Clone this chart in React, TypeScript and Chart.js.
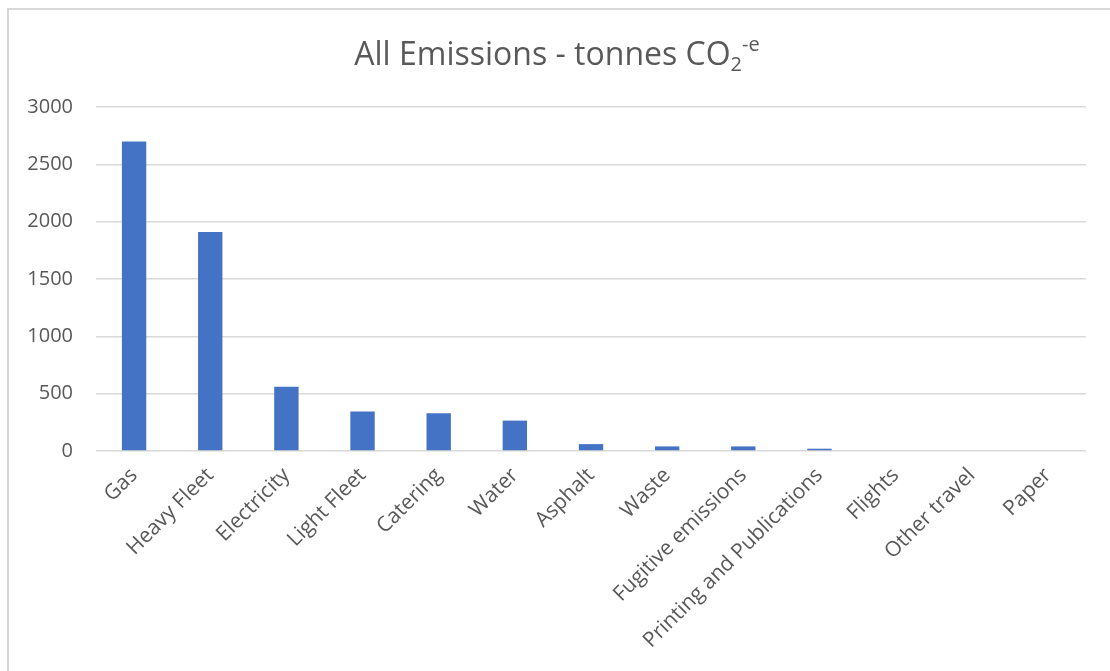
import React, { useEffect, useRef } from "react";
import { Chart, registerables } from "chart.js";

Chart.register(...registerables);

const categories = [
  "Gas",
  "Heavy Fleet",
  "Electricity",
  "Light Fleet",
  "Catering",
  "Water",
  "Asphalt",
  "Waste",
  "Fugitive emissions",
  "Printing and Publications",
  "Flights",
  "Other travel",
  "Paper",
];
const emissions = [2700, 1910, 560, 345, 330, 265, 60, 40, 40, 20, 0, 0, 0];
const yTicks = [0, 500, 1000, 1500, 2000, 2500, 3000];

const FONT = "'Open Sans', sans-serif";
const TEXT = "#595959";
const GRID = "#d9d9d9";
const BAR = "#4472C4";

export default function App() {
  const ref = useRef<HTMLCanvasElement | null>(null);

  useEffect(() => {
    if (!ref.current) return;
    const chart = new Chart(ref.current, {
      type: "bar",
      data: {
        labels: categories,
        datasets: [
          {
            label: "All Emissions",
            data: emissions,
            backgroundColor: BAR,
            borderWidth: 0,
            barPercentage: 0.32,
            categoryPercentage: 1,
          },
        ],
      },
      options: {
        animation: false,
        responsive: false,
        maintainAspectRatio: false,
        layout: { padding: { top: 107, right: 24, bottom: 0, left: 0 } },
        plugins: {
          legend: { display: false },
          title: { display: false },
          tooltip: { enabled: false },
        },
        scales: {
          x: {
            grid: { display: false, drawTicks: false },
            border: { display: false },
            ticks: {
              color: TEXT,
              font: { family: FONT, size: 21 },
              maxRotation: 45,
              minRotation: 45,
              autoSkip: false,
              padding: 12,
            },
            afterFit: (s: any) => {
              s.height = 220;
            },
          },
          y: {
            min: 0,
            max: 3000,
            afterBuildTicks: (s: any) => {
              s.ticks = yTicks.map((v) => ({ value: v }));
            },
            grid: { color: GRID, lineWidth: 1.5, drawTicks: false },
            border: { display: false },
            ticks: {
              color: TEXT,
              font: { family: FONT, size: 20 },
              padding: 23,
              callback: (v: any) => String(v),
            },
            afterFit: (s: any) => {
              s.width = 96;
            },
          },
        },
      },
    });
    return () => chart.destroy();
  }, []);

  return (
    <div style={{ position: "fixed", left: 0, top: 0, width: 1110, height: 671, background: "#fff" }}>
      <canvas ref={ref} width={1110} height={671} style={{ position: "absolute", left: 0, top: 0 }} />
      <div
        style={{
          position: "absolute",
          left: 7,
          top: 8,
          width: 1110,
          height: 671,
          border: `2px solid ${GRID}`,
          boxSizing: "border-box",
          pointerEvents: "none",
        }}
      />
      <div
        style={{
          position: "absolute",
          left: 2,
          top: 30,
          width: 1110,
          textAlign: "center",
          fontFamily: FONT,
          fontSize: 32,
          color: TEXT,
          lineHeight: "normal",
          whiteSpace: "nowrap",
        }}
      >
        All Emissions - tonnes CO
        <sub style={{ fontSize: 20, verticalAlign: "-6px" }}>2</sub>
        <sup style={{ fontSize: 20, verticalAlign: "14px" }}>-e</sup>
      </div>
    </div>
  );
}
